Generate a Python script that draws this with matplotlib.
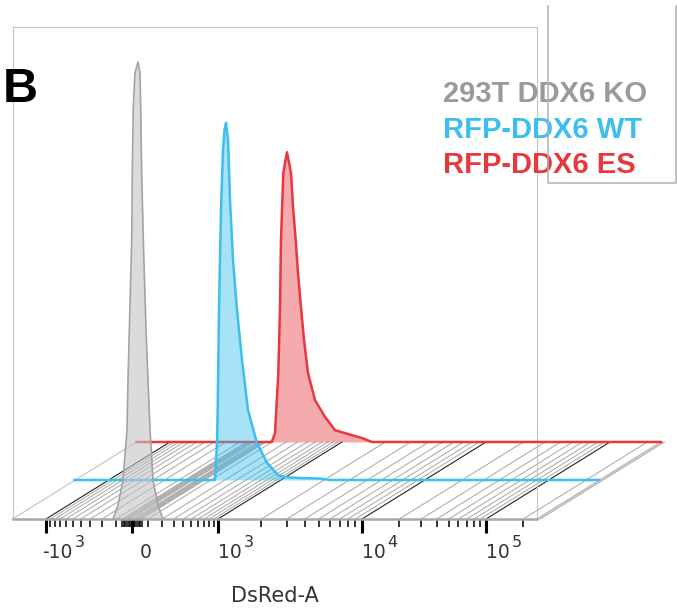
import numpy as np
import matplotlib
matplotlib.use("Agg")
import matplotlib.pyplot as plt
from matplotlib.lines import Line2D

W, H = 677, 609
DPI = 100

# ---------------- data (x = display channel 0..1000, y = count scale 0..100) -------------
gray_ch = [191.6, 201.1, 210.7, 218.3, 220.2, 227.3, 228.4, 230.3, 233.6, 239.3,
           243.1, 244.4, 246.3, 249.4, 254.5, 258.3, 262.2, 267.9, 277.4, 286.9]
gray_cnt = [0, 2.8, 7.9, 18.1, 28.3, 56.7, 70.3, 83.7, 90.7, 92.9,
            90.7, 83.7, 70.3, 56.7, 38.6, 28.3, 18.1, 7.9, 2.8, 0]

blue_ch = [267.9, 269.8, 271.7, 273.0, 275.5, 279.3, 283.1, 286.0, 288.9, 292.7,
           296.5, 302.2, 309.8, 319.4, 330.8, 348.0, 367.0, 388.0, 401.3, 429.9,
           468.1, 487.1]
blue_cnt = [0, 4.1, 7.5, 14.2, 34.6, 54.9, 67.1, 71.1, 72.6, 69.1,
            56.9, 44.7, 34.6, 24.4, 14.2, 7.5, 3.5, 1.0, 0.6, 0.4,
            0.3, 0]

red_ch = [257.8, 264.1, 270.4, 273.6, 275.5, 279.9, 286.9, 294.6, 298.4, 303.5,
          307.9, 313.6, 319.4, 327.0, 340.3, 359.4, 378.5, 397.5, 429.9, 449.0]
red_cnt = [0, 1.8, 14.0, 27.4, 41.1, 54.7, 58.9, 54.7, 47.8, 41.1,
           34.3, 27.4, 20.7, 14.0, 8.5, 5.1, 2.4, 1.8, 0.8, 0]

sample_names = ["293T DDX6 KO", "RFP-DDX6 WT", "RFP-DDX6 ES"]
line_colors = ["#a3a3a3", "#3cbfee", "#e8383d"]
text_colors = ["#9a9a9a", "#3cbfee", "#e8383d"]
fill_colors = ["#c4c4c4", "#3cbfee", "#e8383d"]
fill_alpha = [0.6, 0.45, 0.42]

major_vals = [-1000, 0, 1000, 10000, 100000]
label_base = ["-10", "0", "10", "10", "10"]
label_exp = ["3", "", "3", "4", "5"]
label_dx_px = [-4, 8, 0, 0, 0]
minor_vals = ([-v for v in range(100, 1000, 100)] + [-v for v in range(10, 70, 10)] +
              list(range(10, 70, 10)) + list(range(100, 1000, 100)) +
              list(range(2000, 10000, 1000)) + list(range(20000, 100000, 10000)) + [200000])

# layer shift (pixels) for the offset-histogram layout
layer_shift_px = [(0, 0), (62, 39), (124, 77)]

# ---------------- layout ----------------
AX_L, AX_R, AX_T, AX_B = 12.5, 537, 27, 519


def fluo_to_px(v):
    v = np.asarray(v, float)
    a = np.abs(v)
    s = np.sign(v)
    lin = 86 * np.arcsinh(4 * a / 1000) / np.arcsinh(4)
    d1 = 86 + 144 * np.log10(np.maximum(a, 1) / 1000)
    d2 = 86 + 144 + 124 * np.log10(np.maximum(a, 1) / 1e4)
    r = np.where(a <= 1000, lin, np.where(a <= 1e4, d1, d2))
    return 132 + s * r


def fluo_to_ch(v):
    return (fluo_to_px(v) - AX_L) * 1000.0 / (AX_R - AX_L)


fig = plt.figure(figsize=(W / DPI, H / DPI), dpi=DPI)
ax = fig.add_axes([AX_L / W, (H - AX_B) / H, (AX_R - AX_L) / W, (AX_B - AX_T) / H])
ax.set_xlim(0, 1000)
ax.set_ylim(0, 100)

ch_per_px = 1000.0 / (AX_R - AX_L)
y_per_px = 100.0 / (AX_B - AX_T)
shifts = [(dx * ch_per_px, dy * y_per_px) for dx, dy in layer_shift_px]
back_dx, back_dy = shifts[-1]

# ---------------- floor ----------------
major_ch = fluo_to_ch(major_vals)
minor_ch = fluo_to_ch(minor_vals)
for c in minor_ch:
    ax.plot([c, c + back_dx], [0, back_dy], color="#a6a6a6", lw=0.7,
            clip_on=False, zorder=1)
for v, c in zip(major_vals, major_ch):
    if v == 0:
        continue
    ax.plot([c, c + back_dx], [0, back_dy], color="#222222", lw=0.8,
            clip_on=False, zorder=1.2)
# floor edges
ax.plot([0, back_dx], [0, back_dy], color="#c8c8c8", lw=0.9, clip_on=False, zorder=1)
for e in (0, 6):
    ax.plot([1000 + e, 1000 + e + back_dx], [0, back_dy], color="#b0b0b0", lw=0.9,
            clip_on=False, zorder=1)

# ---------------- histograms (back to front) ----------------
data = [(gray_ch, gray_cnt), (blue_ch, blue_cnt), (red_ch, red_cnt)]
for i in [2, 1, 0]:
    xs = np.array(data[i][0])
    ys = np.array(data[i][1])
    dx, dy = shifts[i]
    z = 3 + (2 - i)
    ax.fill_between(xs + dx, dy, ys + dy, color=fill_colors[i], alpha=fill_alpha[i],
                    lw=0, clip_on=False, zorder=z)
    if i == 0:
        ax.plot(xs + dx, ys + dy, color=line_colors[i], lw=1.2, clip_on=False, zorder=z + 0.1)
    else:
        fx = np.concatenate([[0], xs, [1000]]) + dx
        fy = np.concatenate([[0], ys, [0]]) + dy
        ax.plot(fx, fy, color=line_colors[i], lw=1.8, clip_on=False, zorder=z + 0.1,
                solid_joinstyle="round")

# ---------------- axes styling ----------------
for side in ["left", "top", "right"]:
    ax.spines[side].set_color("#c4c4c4")
    ax.spines[side].set_linewidth(0.8)
ax.spines["bottom"].set_color("#a8a8a8")
ax.spines["bottom"].set_linewidth(1.8)
ax.spines["bottom"].set_zorder(6)
ax.set_yticks([])
ax.set_xticks(major_ch)
ax.set_xticks(minor_ch, minor=True)
ax.tick_params(axis="x", which="major", direction="out", length=10, width=2.2,
               color="black", labelbottom=False)
ax.tick_params(axis="x", which="minor", direction="out", length=6, width=1.1,
               color="black")

# tick labels: base + raised exponent
tr = ax.get_xaxis_transform()
lab_y = -(558 - AX_B) / (AX_B - AX_T)
renderer = fig.canvas.get_renderer()
for v, b, e, ddx in zip(major_vals, label_base, label_exp, label_dx_px):
    c = float(fluo_to_ch(v))
    t = ax.annotate(b, xy=(c, lab_y), xycoords=tr, xytext=(ddx * 0.72, 0),
                    textcoords="offset points", ha="left", va="baseline",
                    fontsize=13.5, color="#333333")
    if e:
        wpx = t.get_window_extent(renderer).width
        ax.annotate(e, xy=(c, lab_y), xycoords=tr,
                    xytext=((ddx + wpx + 2) * 0.72, 11 * 0.72),
                    textcoords="offset points", ha="left", va="baseline",
                    fontsize=11.5, color="#333333")

fig.text(275 / W, 1 - 596 / H, "DsRed-A", ha="center", va="center", fontsize=15,
         color="#333333")

# panel letter
fig.text(3 / W, 1 - 102 / H, "B", fontsize=35, fontweight="bold",
         family="Liberation Sans", color="black", ha="left", va="baseline")

# legend text
for k, name in enumerate(sample_names):
    base = 102 + k * 35.5
    fig.text(443 / W, 1 - base / H, name, fontsize=21, fontweight="bold",
             family="Liberation Sans", color=text_colors[k],
             ha="left", va="baseline", zorder=5)

# overlapping legend box frame (drawn over the text)
bx = np.array([548, 548, 676, 676]) / W
by = 1 - np.array([6, 183, 183, 6]) / H
fig.add_artist(Line2D(bx, by, transform=fig.transFigure, color="#b0b0b0", lw=1.1,
                      zorder=10))

fig.savefig("out.png", dpi=DPI)
